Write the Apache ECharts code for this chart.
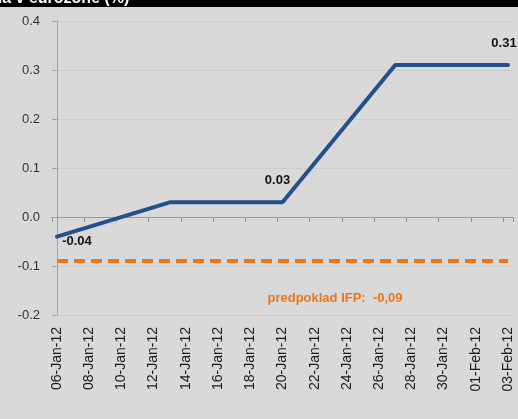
<!DOCTYPE html>
<html>
<head>
<meta charset="utf-8">
<script src="https://cdn.jsdelivr.net/npm/echarts@6/dist/echarts.min.js"></script>
<style>
html,body{margin:0;padding:0;background:#d9d9d9;}
#chart{width:518px;height:419px;}
</style>
</head>
<body>
<div id="chart"></div>
<script>
// ---- data ----
const days = ['06-Jan-12','07-Jan-12','08-Jan-12','09-Jan-12','10-Jan-12','11-Jan-12','12-Jan-12',
  '13-Jan-12','14-Jan-12','15-Jan-12','16-Jan-12','17-Jan-12','18-Jan-12','19-Jan-12','20-Jan-12',
  '21-Jan-12','22-Jan-12','23-Jan-12','24-Jan-12','25-Jan-12','26-Jan-12','27-Jan-12','28-Jan-12',
  '29-Jan-12','30-Jan-12','31-Jan-12','01-Feb-12','02-Feb-12','03-Feb-12'];
const tickLabels = ['06-Jan-12','08-Jan-12','10-Jan-12','12-Jan-12','14-Jan-12','16-Jan-12','18-Jan-12',
  '20-Jan-12','22-Jan-12','24-Jan-12','26-Jan-12','28-Jan-12','30-Jan-12','01-Feb-12','03-Feb-12'];
const pointDates = ['06-Jan-12','13-Jan-12','20-Jan-12','27-Jan-12','03-Feb-12'];
const pointValues = [-0.04, 0.03, 0.03, 0.31, 0.31];
const labeledDates = ['06-Jan-12','20-Jan-12','03-Feb-12'];
const ifpDates = ['06-Jan-12','03-Feb-12'];
const ifpValue = -0.09;
const ifpText = 'predpoklad IFP:  -0,09';
const titleText = 'Inflácia v eurozone (%)';
const yTicks = [-0.2, -0.1, 0.0, 0.1, 0.2, 0.3, 0.4];

// ---- chart ----
const chart = echarts.init(document.getElementById('chart'), null, {renderer:'canvas'});
const font = "'Liberation Sans Narrow','Arial Narrow','Liberation Sans',sans-serif";
const xMin = -0.31, xMax = days.length - 1 + 0.31;
const labelCfg = [
  {position:'bottom', offset:[20,-7]},
  {position:'top', offset:[-5,-10]},
  {position:'top', offset:[-4,-10]}
];
const mainData = pointDates.map((d,i) => {
  const li = labeledDates.indexOf(d);
  const item = {value:[days.indexOf(d), pointValues[i]]};
  if (li >= 0) {
    item.label = Object.assign({show:true, formatter: pointValues[i].toFixed(2),
      color:'#111', fontWeight:'bold', fontSize:13, fontFamily:font}, labelCfg[li]);
  }
  return item;
});
const ifpData = ifpDates.map(d => [days.indexOf(d), ifpValue]);

chart.setOption({
  backgroundColor:'#d9d9d9',
  animation:false,
  grid:{left:52, right:5, top:21, bottom:104, containLabel:false},
  graphic:[
    {type:'rect', x:0, y:0, shape:{width:518, height:7}, style:{fill:'#000'}, z:10},
    {type:'text', x:-44, y:-9, style:{text:titleText, fill:'#fff', font:"bold 16px 'Liberation Sans',sans-serif"}, z:11},
    {type:'text', x:335, y:298, style:{text:ifpText, fill:'#e8761c', align:'center', verticalAlign:'middle',
      font:"bold 13px "+font}, z:11}
  ],
  xAxis:[
    {type:'value', min:xMin, max:xMax, position:'bottom',
     axisLine:{show:false}, axisTick:{show:false}, splitLine:{show:false},
     axisLabel:{customValues: tickLabels.map(t => days.indexOf(t)), rotate:90, margin:12,
       formatter: v => days[Math.round(v)], color:'#1a1a1a', fontSize:14, fontFamily:font}},
    {type:'value', min:xMin, max:xMax, interval:2, position:'top',
     axisLine:{show:true, onZero:true, onZeroAxisIndex:0, lineStyle:{color:'#9a9a9a', width:1}},
     axisTick:{show:true, inside:true, length:5, lineStyle:{color:'#8f8f8f'}},
     axisLabel:{show:false}, splitLine:{show:false}}
  ],
  yAxis:{type:'value', min:yTicks[0], max:yTicks[yTicks.length-1], interval:0.1,
    axisLine:{show:true, lineStyle:{color:'#a3a3a3'}},
    axisTick:{show:true, length:5, lineStyle:{color:'#a3a3a3'}},
    splitLine:{show:true, lineStyle:{color:'#cdcdcd', width:1}},
    axisLabel:{margin:12, formatter: v => v.toFixed(1), color:'#333', fontSize:13, fontFamily:font}},
  series:[
    {type:'line', xAxisIndex:0, data:ifpData, symbol:'none',
     lineStyle:{color:'#e8761c', width:4, type:[11,6], cap:'butt'}, z:2},
    {type:'line', xAxisIndex:0, data:mainData, symbol:'circle', symbolSize:1, showSymbol:true,
     itemStyle:{color:'transparent', borderWidth:0},
     label:{show:false},
     lineStyle:{color:'#234f8a', width:4, cap:'round', join:'round'}, z:3}
  ]
});
</script>
</body>
</html>
